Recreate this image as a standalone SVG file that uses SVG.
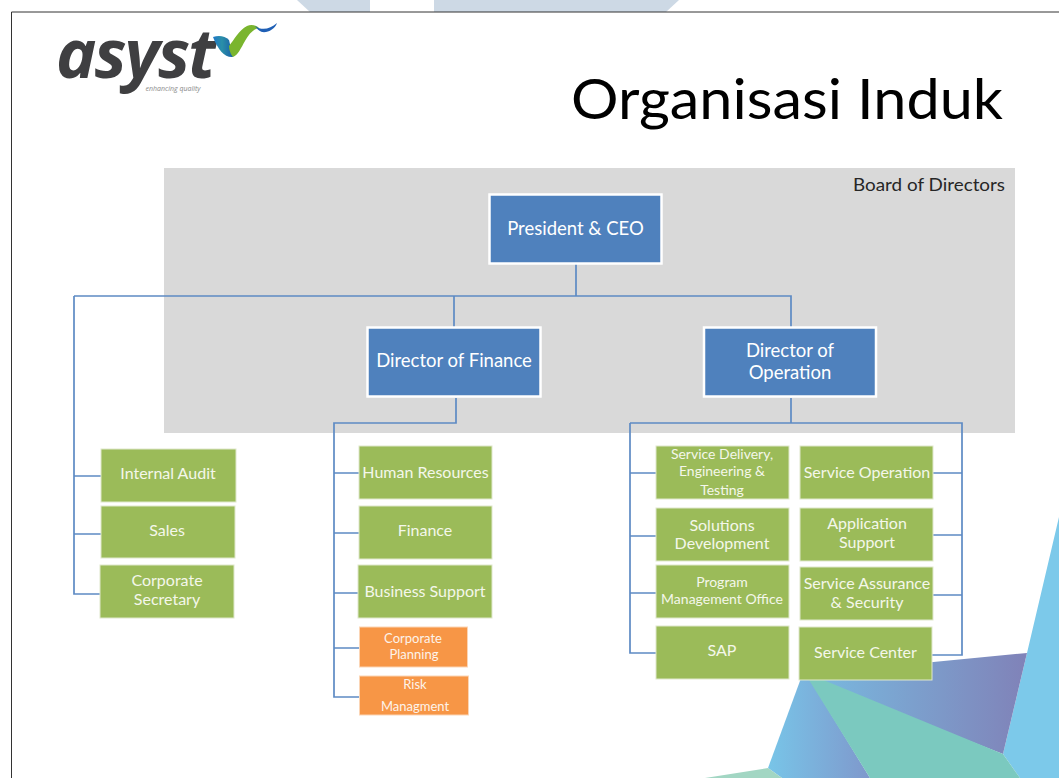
<svg xmlns="http://www.w3.org/2000/svg" width="1059" height="778" viewBox="0 0 1059 778">
<style>
text{font-family:Lato,"Open Sans","Liberation Sans",sans-serif;text-anchor:middle}
.g rect{fill:#9bbb59;stroke:#dfe8cc;stroke-width:1}
.o rect{fill:#f79646;stroke:#fbd5b5;stroke-width:1}
.b rect{fill:#4f81bd;stroke:#fff;stroke-width:2.5}
.g text{fill:#f4f7ea;font-size:16px}
.g text.s{font-size:14px}
.o text{fill:#fdf3ea;font-size:13px}
.b text{fill:#fff;font-size:18.500px}
.c{fill:none;stroke:#5d8ac4;stroke-width:1.700}
</style>
<defs>
<linearGradient id="p" x1="0" x2="1" y1="0" y2="0"><stop offset="0" stop-color="#78bde2"/><stop offset="1" stop-color="#8082b8"/></linearGradient>
<linearGradient id="l" x1="0" x2="1" y1="0" y2="0"><stop offset="0" stop-color="#78c5e8"/><stop offset="1" stop-color="#7f98cc"/></linearGradient>
<linearGradient id="v" x1="0" x2="1" y1="0" y2="0"><stop offset="0" stop-color="#1f78c8"/><stop offset="0.45" stop-color="#2a8fa8"/><stop offset="1" stop-color="#1a5fa8"/></linearGradient>
</defs>
<rect width="1059" height="778" fill="#fff"/>
<g id="background">
<polygon points="297,0 310,12 370,12 370,0" fill="#cdd9e5"/>
<polygon points="434,0 679,0 666,12 434,12" fill="#cdd9e5"/>
<polygon points="1059,517 1027,653 1003,754 1020,778 1059,778" fill="#7cc9ea"/>
<polygon points="800,675 1027,653 1003,754" fill="url(#p)"/>
<polygon points="804,670 768,768 782,778 870,778" fill="url(#l)"/>
<polygon points="804,672 1003,754 1020,778 870,778" fill="#7bc9bf"/>
<polygon points="705,778 768,768 782,778" fill="#a2d6c3"/>
<polyline points="1059,12 11.500,12 11.500,778" fill="none" stroke="#333" stroke-width="1"/>
</g>
<g id="logo">
<text x="135" y="78" style="font-family:'Open Sans','Liberation Sans',sans-serif;font-size:68px;font-weight:700;font-style:italic;letter-spacing:-2px" fill="#3f3f41">asyst</text>
<text x="173" y="91" style="font-family:'Open Sans',sans-serif;font-size:7px;font-style:italic" fill="#8a8a8a">enhancing quality</text>
<path d="M213,37 C219,35 225,36 229,40 L233,57 C225,58 218,50 213,37Z" fill="url(#v)"/>
<path d="M229,46 C234,40 239,30 247,26 C251,24 256,25 259,28 C253,29 249,34 245,41 C241,48 238,55 233,57 C231,55 229,50 229,46Z" fill="#7ab52e"/>
<path d="M255,26 C262,31 270,29 277,23 C275,29 268,33 262,32 C259,31 257,29 255,26Z" fill="#1f5fb5"/>
</g>
<text x="787" y="119" style="font-size:56px" fill="#000" textLength="432" lengthAdjust="spacingAndGlyphs">Organisasi Induk</text>
<g id="board">
<rect x="164" y="168" width="851" height="265" fill="#d9d9d9"/>
<text x="929" y="191" style="font-size:17px" fill="#262626" textLength="152" lengthAdjust="spacingAndGlyphs">Board of Directors</text>
</g>
<g id="connectors" class="c">
<path d="M576,264V296M74,296H791V327M454,296V327M74,296V594H100M74,476H102M74,534H101"/>
<path d="M456,398V423H334V697H360M334,473H360M334,533H360M334,593H358M334,648H360"/>
<path d="M791,398V423M630,423H962V655H932M630,423V653H656M630,473H656M630,536H656M630,593H656M933,473H962M933,535H962M933,595H962"/>
</g>
<g id="president" class="b"><rect x="489.500" y="194.500" width="172" height="69"/><text x="575.500" y="235">President &amp; CEO</text></g>
<g id="finance-director" class="b"><rect x="367.500" y="327.500" width="173" height="69"/><text x="454" y="367">Director of Finance</text></g>
<g id="operation-director" class="b"><rect x="704" y="327.500" width="172" height="69"/><text x="790" y="357">Director of</text><text x="790" y="379">Operation</text></g>
<g id="internal-audit" class="g"><rect x="101" y="449" width="135" height="53"/><text x="168" y="479">Internal Audit</text></g>
<g id="sales" class="g"><rect x="101" y="506" width="134" height="52"/><text x="167" y="536">Sales</text></g>
<g id="corporate-secretary" class="g"><rect x="100" y="565" width="134" height="53"/><text x="167" y="586">Corporate</text><text x="167" y="605">Secretary</text></g>
<g id="human-resources" class="g"><rect x="359" y="446" width="133" height="53"/><text x="425.500" y="478">Human Resources</text></g>
<g id="finance" class="g"><rect x="359" y="506" width="133" height="53"/><text x="425" y="536">Finance</text></g>
<g id="business-support" class="g"><rect x="358" y="565" width="134" height="53"/><text x="425" y="597">Business Support</text></g>
<g id="corporate-planning" class="o"><rect x="359.500" y="627" width="108" height="40"/><text x="413" y="643">Corporate</text><text x="414" y="659">Planning</text></g>
<g id="risk-management" class="o"><rect x="359.500" y="676" width="109" height="39"/><text x="415" y="689">Risk</text><text x="415" y="711">Managment</text></g>
<g id="service-delivery" class="g"><rect x="656" y="446" width="133" height="53"/><text x="722" y="459" class="s">Service Delivery,</text><text x="722" y="476" class="s">Engineering &amp;</text><text x="722" y="495" class="s">Testing</text></g>
<g id="solutions-development" class="g"><rect x="656" y="508" width="133" height="53"/><text x="722" y="531">Solutions</text><text x="722" y="549">Development</text></g>
<g id="program-management" class="g"><rect x="656" y="565" width="133" height="53"/><text x="722" y="587" class="s">Program</text><text x="722" y="604" class="s">Management Office</text></g>
<g id="sap" class="g"><rect x="656" y="626" width="133" height="53"/><text x="722" y="656">SAP</text></g>
<g id="service-operation" class="g"><rect x="800" y="446" width="133" height="53"/><text x="867" y="478">Service Operation</text></g>
<g id="application-support" class="g"><rect x="800" y="508" width="133" height="53"/><text x="867" y="529">Application</text><text x="867" y="548">Support</text></g>
<g id="service-assurance" class="g"><rect x="800" y="567" width="133" height="53"/><text x="867" y="589">Service Assurance</text><text x="867" y="608">&amp; Security</text></g>
<g id="service-center" class="g"><rect x="799" y="627" width="133" height="53"/><text x="865.500" y="658">Service Center</text></g>
</svg>
